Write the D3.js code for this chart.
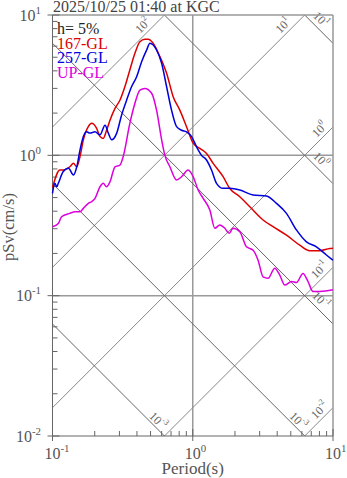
<!DOCTYPE html>
<html>
<head>
<meta charset="utf-8">
<script src="https://cdn.jsdelivr.net/npm/d3@7"></script>
<style>
body { margin: 0; background: #fff; }
svg { display: block; font-family: "Liberation Serif", "DejaVu Serif", serif; }
</style>
</head>
<body>
<svg width="347" height="478"></svg>
<script>
// Response spectra (period in s, pSv in cm/s)
var period167 = [0.1,0.113,0.119,0.133,0.141,0.149,0.157,0.166,0.180,0.190,0.206,0.218,0.230,0.243,0.257,0.279,0.303,0.328,0.356,0.387,0.420,0.456,0.481,0.522,0.583,0.651,0.725,0.809,0.903,1.007,1.124,1.254,1.398,1.646,1.837,2.165,2.551,3.172,3.737,4.657,5.792,6.823,8.040,9.474,10];
var sv167 = [0.59,0.786,0.786,0.829,0.877,0.829,0.977,1.29,1.60,1.69,1.56,1.36,1.32,1.51,1.78,2.16,2.48,3.08,4.06,5.33,6.45,6.71,6.71,6.29,5.05,3.84,2.62,2.10,1.60,1.22,1.12,1.03,0.877,0.704,0.58,0.507,0.430,0.346,0.310,0.270,0.229,0.209,0.209,0.217,0.218];

var period257 = [0.1,0.104,0.107,0.110,0.119,0.130,0.141,0.149,0.157,0.166,0.175,0.185,0.201,0.218,0.237,0.250,0.264,0.287,0.311,0.338,0.366,0.398,0.432,0.469,0.495,0.552,0.600,0.651,0.706,0.767,0.832,0.903,0.981,1.064,1.155,1.254,1.361,1.477,1.646,1.837,2.165,2.693,3.355,3.954,4.657,5.487,6.465,7.616,8.974,10];
var sv257 = [0.536,0.632,0.597,0.632,0.764,0.808,0.724,0.829,1.09,1.36,1.47,1.44,1.47,1.40,1.64,1.44,1.29,1.44,1.94,2.48,3.08,3.63,4.65,5.63,6.29,5.63,4.53,3.08,2.10,1.60,1.51,1.47,1.36,1.15,1.00,0.926,0.786,0.632,0.582,0.582,0.566,0.521,0.513,0.455,0.386,0.294,0.242,0.223,0.195,0.179];

var periodUP = [0.1,0.110,0.116,0.133,0.145,0.157,0.166,0.180,0.190,0.201,0.218,0.230,0.243,0.257,0.279,0.303,0.319,0.356,0.387,0.420,0.456,0.509,0.552,0.600,0.633,0.687,0.767,0.832,0.927,1.007,1.093,1.186,1.324,1.437,1.560,1.693,1.816,1.940,2.165,2.416,2.693,2.923,3.172,3.443,3.844,4.173,4.529,5.055,5.487,6.114,6.637,7.202,8.040,10];
var svUP = [0.310,0.327,0.365,0.386,0.396,0.396,0.419,0.455,0.467,0.494,0.597,0.632,0.597,0.648,0.829,0.853,0.977,1.69,2.35,2.92,3.00,2.77,2.10,1.29,1.00,0.829,0.667,0.704,0.786,0.704,0.566,0.494,0.407,0.302,0.319,0.302,0.278,0.302,0.285,0.223,0.211,0.179,0.136,0.133,0.157,0.140,0.119,0.126,0.124,0.144,0.126,0.107,0.107,0.110];

var seriesNames = ["167-GL", "257-GL", "UP-GL"];
var seriesColors = ["#dd0000", "#0000dd", "#dd00dd"];

// tripartite guide lines: acceleration (gal) and displacement (cm)
var accelLevels = [0.01, 0.1, 1, 10, 100];
var accelExp = ["-2", "-1", "0", "1", "2"];
var dispLevels = [0.001, 0.01, 0.1, 1, 10];
var dispExp = ["-3", "-3", "-1", "0", "1"];

var xTickExp = ["-1", "0", "1"];
var yTickExp = ["-2", "-1", "0", "1"];

var svg = d3.select("svg");
var pLeft = 52.5, pRight = 333, pTop = 15, pBottom = 436;

var x = d3.scaleLog().domain([0.1, 10]).range([pLeft, pRight]);
var y = d3.scaleLog().domain([0.01, 10]).range([pBottom, pTop]);

// "10" with a raised exponent
function pow10(sel, exp, fs) {
    sel.append("tspan").text("10");
    sel.append("tspan")
        .attr("dy", -fs * 0.42)
        .attr("font-size", fs * 0.68)
        .text(exp);
}

// grid lines at decades
svg.append("line")
    .attr("x1", x(1)).attr("x2", x(1)).attr("y1", pTop).attr("y2", pBottom)
    .attr("stroke", "#9a9a9a").attr("stroke-width", 1.5);
[1, 0.1].forEach(function (v) {
    svg.append("line")
        .attr("x1", pLeft).attr("x2", pRight).attr("y1", y(v)).attr("y2", y(v))
        .attr("stroke", "#9a9a9a").attr("stroke-width", 1.5);
});

// diagonals
var twoPi = 2 * Math.PI;
var diag = svg.append("g");
var labels = svg.append("g").attr("fill", "#666").attr("font-size", 12);

accelLevels.forEach(function (a, i) {
    var t0 = Math.max(0.1, 0.01 * twoPi / a), t1 = Math.min(10, 10 * twoPi / a);
    diag.append("line")
        .attr("x1", x(t0)).attr("y1", y(a * t0 / twoPi))
        .attr("x2", x(t1)).attr("y2", y(a * t1 / twoPi))
        .attr("stroke", "#888").attr("stroke-width", 1);
    var ex = x(t1), ey = y(a * t1 / twoPi);
    var s = ey < pTop + 1 ? 16 : 8, p = 5.5;
    var t = labels.append("text")
        .attr("text-anchor", "middle")
        .attr("dominant-baseline", "central")
        .attr("transform", "translate(" + (ex - s - p) + "," + (ey + s - p) + ") rotate(-45)");
    pow10(t, accelExp[i], 12);
});

dispLevels.forEach(function (d, i) {
    var t0 = Math.max(0.1, twoPi * d / 10), t1 = Math.min(10, twoPi * d / 0.01);
    diag.append("line")
        .attr("x1", x(t0)).attr("y1", y(twoPi * d / t0))
        .attr("x2", x(t1)).attr("y2", y(twoPi * d / t1))
        .attr("stroke", "#666").attr("stroke-width", 1);
    var ex = x(t1), ey = y(twoPi * d / t1);
    var s = ey > pBottom - 1 ? 11 : 18, p = ey > pBottom - 1 ? 4.5 : 6;
    var t = labels.append("text")
        .attr("text-anchor", "middle")
        .attr("dominant-baseline", "central")
        .attr("transform", "translate(" + (ex - s + p) + "," + (ey - s - p) + ") rotate(45)");
    pow10(t, dispExp[i], 12);
});

// frame
svg.append("line").attr("x1", pLeft).attr("x2", pRight).attr("y1", pTop).attr("y2", pTop)
    .attr("stroke", "#999").attr("stroke-width", 1.5);
svg.append("line").attr("x1", pRight).attr("x2", pRight).attr("y1", pTop).attr("y2", pBottom)
    .attr("stroke", "#999").attr("stroke-width", 1.5);
svg.append("line").attr("x1", pLeft).attr("x2", pLeft).attr("y1", pTop).attr("y2", pBottom)
    .attr("stroke", "#666").attr("stroke-width", 1);
svg.append("line").attr("x1", pLeft).attr("x2", pRight).attr("y1", pBottom).attr("y2", pBottom)
    .attr("stroke", "#666").attr("stroke-width", 1);

// ticks
var isMajor = function (v) { return Math.abs(Math.log10(v) - Math.round(Math.log10(v))) < 1e-6; };
svg.append("g").selectAll("line")
    .data(x.ticks())
    .enter().append("line")
    .attr("x1", function (d) { return x(d); })
    .attr("x2", function (d) { return x(d); })
    .attr("y1", function (d) { return isMajor(d) ? pBottom + 5 : pBottom; })
    .attr("y2", function (d) { return isMajor(d) ? pBottom - 7 : pBottom - 5; })
    .attr("stroke", "#666");
svg.append("g").selectAll("line")
    .data(y.ticks())
    .enter().append("line")
    .attr("y1", function (d) { return y(d); })
    .attr("y2", function (d) { return y(d); })
    .attr("x1", function (d) { return isMajor(d) ? pLeft - 5 : pLeft; })
    .attr("x2", function (d) { return isMajor(d) ? pLeft + 7 : pLeft + 5; })
    .attr("stroke", "#666");

// tick labels
[0.1, 1, 10].forEach(function (v, i) {
    var t = svg.append("text")
        .attr("x", x(v) - 8).attr("y", 459)
        .attr("font-size", 16).attr("fill", "#555");
    pow10(t, xTickExp[i], 16);
});
[0.01, 0.1, 1, 10].forEach(function (v, i) {
    var t = svg.append("text")
        .attr("x", 41).attr("y", y(v) + 5.5)
        .attr("text-anchor", "end")
        .attr("font-size", 16).attr("fill", "#555");
    pow10(t, yTickExp[i], 16);
});

// axis titles
svg.append("text")
    .attr("x", x(1)).attr("y", 474)
    .attr("text-anchor", "middle")
    .attr("font-size", 17).attr("fill", "#555")
    .text("Period(s)");
svg.append("text")
    .attr("transform", "translate(13.5,227) rotate(-90)")
    .attr("text-anchor", "middle")
    .attr("font-size", 16.5).attr("fill", "#555")
    .text("pSv(cm/s)");

// title
svg.append("text")
    .attr("x", 53).attr("y", 12)
    .attr("font-size", 16).attr("fill", "#444")
    .text("2025/10/25 01:40 at KGC");

// curves
var line = d3.line()
    .x(function (d) { return x(d[0]); })
    .y(function (d) { return y(d[1]); })
    .curve(d3.curveMonotoneX);

var series = [
    d3.zip(period167, sv167),
    d3.zip(period257, sv257),
    d3.zip(periodUP, svUP)
];

svg.append("g").selectAll("path")
    .data(series)
    .enter().append("path")
    .attr("d", line)
    .attr("fill", "none")
    .attr("stroke", function (d, i) { return seriesColors[i]; })
    .attr("stroke-width", 1.5);

// legend
var legend = svg.append("g").attr("font-size", 16);
legend.append("text").attr("x", 57).attr("y", 34).attr("fill", "#222").text("h= 5%");
seriesNames.forEach(function (n, i) {
    legend.append("text")
        .attr("x", 57).attr("y", 48.5 + i * 14.5)
        .attr("fill", seriesColors[i])
        .text(n);
});
</script>
</body>
</html>
